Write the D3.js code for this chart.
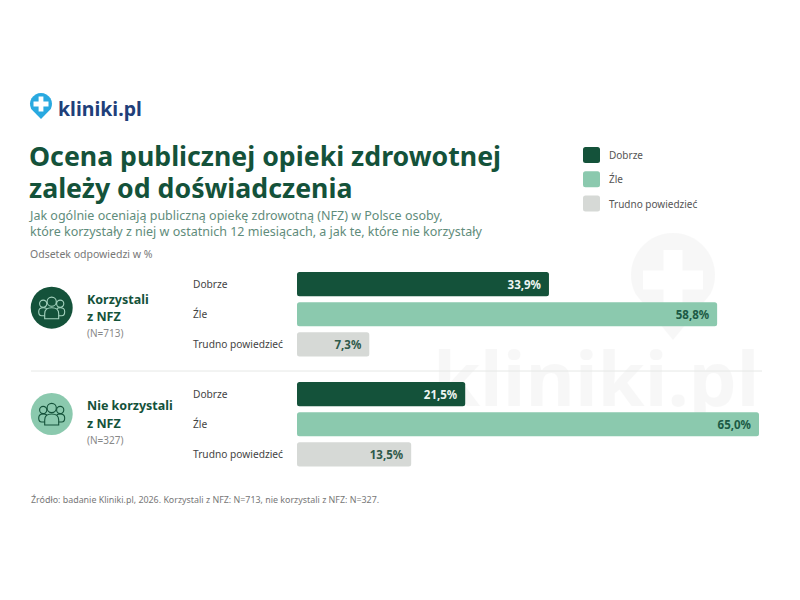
<!DOCTYPE html>
<html lang="pl">
<head>
<meta charset="utf-8">
<script src="https://cdn.jsdelivr.net/npm/d3@7"></script>
<style>
  html, body { margin: 0; padding: 0; background: #fff; }
  text { font-family: "Noto Sans", sans-serif; }
</style>
</head>
<body>
<div class="chart"></div>
<script>
const answers = ["Dobrze", "Źle", "Trudno powiedzieć"];
const groupNames = [["Korzystali", "z NFZ"], ["Nie korzystali", "z NFZ"]];
const groupCounts = ["(N=713)", "(N=327)"];
const usedValues = [33.9, 58.8, 7.3];
const notUsedValues = [21.5, 65.0, 13.5];
const titleLines = ["Ocena publicznej opieki zdrowotnej", "zależy od doświadczenia"];
const subtitleLines = [
    "Jak ogólnie oceniają publiczną opiekę zdrowotną (NFZ) w Polsce osoby,",
    "które korzystały z niej w ostatnich 12 miesiącach, a jak te, które nie korzystały"
];
const unitNote = "Odsetek odpowiedzi w %";
const sourceNote = "Źródło: badanie Kliniki.pl, 2026. Korzystali z NFZ: N=713, nie korzystali z NFZ: N=327.";

const dark = "#14523a", mint = "#8bc9ae", grey = "#d6d9d6";
const barColor = d3.scaleOrdinal().domain(answers).range([dark, mint, grey]);
const labelColor = d3.scaleOrdinal().domain(answers).range(["#eef6f2", "#1c5a45", "#2f5a4a"]);

const svg = d3.select(".chart").append("svg")
    .attr("width", 800)
    .attr("height", 600)
    .style("display", "block");

// watermark, sits behind everything
const mark = svg.append("g").attr("opacity", 0.03);
mark.append("path")
    .attr("d", pinPath(673, 275, 42, 1.55))
    .attr("fill", "#333");
mark.append("path")
    .attr("d", crossPath(673, 280, 30, 9.5))
    .attr("fill", "#fff");
mark.append("text")
    .attr("x", 433).attr("y", 406)
    .attr("font-size", 76).attr("font-weight", 700)
    .attr("fill", "#333")
    .text("kliniki.pl");

// logo
svg.append("path").attr("d", pinPath(41, 104, 11, 1.36)).attr("fill", "#29a9e0");
svg.append("path").attr("d", crossPath(41, 104, 7.5, 2.4)).attr("fill", "#fff");
svg.append("text")
    .attr("x", 58).attr("y", 115.5)
    .attr("font-size", 19.5).attr("font-weight", 700)
    .attr("fill", "#1f3f7a")
    .text("kliniki.pl");

svg.append("g").selectAll("text")
    .data(titleLines)
    .join("text")
    .attr("x", 29)
    .attr("y", (d, i) => 166 + i * 32)
    .attr("font-size", 26.7).attr("font-weight", 700)
    .attr("fill", "#14523a")
    .text(d => d);

svg.append("g").selectAll("text")
    .data(subtitleLines)
    .join("text")
    .attr("x", 30)
    .attr("y", (d, i) => 220 + i * 16)
    .attr("font-size", 12.5)
    .attr("fill", "#5f8c7b")
    .text(d => d);

svg.append("text")
    .attr("x", 30).attr("y", 258)
    .attr("font-size", 10.5)
    .attr("fill", "#777")
    .text(unitNote);

// legend
const legend = svg.append("g").selectAll("g")
    .data(answers)
    .join("g")
    .attr("transform", (d, i) => `translate(583,${147 + i * 24.3})`);
legend.append("rect")
    .attr("width", 17).attr("height", 16).attr("rx", 2.5)
    .attr("fill", d => barColor(d));
legend.append("text")
    .attr("x", 26).attr("y", 12)
    .attr("font-size", 10)
    .attr("fill", "#555")
    .text(d => d);

// the bars in the original are not strictly proportional to their values,
// so this is a fit through them with zero to the right of the bar origin
const barLeft = 297;
const x = d3.scaleLinear().domain([0, 65]).range([320, 759]);

const groups = [
    {name: groupNames[0], count: groupCounts[0], values: usedValues, top: 272, mid: 35.7, fill: dark, stroke: "#a5d3bf"},
    {name: groupNames[1], count: groupCounts[1], values: notUsedValues, top: 382, mid: 32, fill: mint, stroke: "#14523a"}
];

const y = d3.scaleBand().domain(answers).range([0, 84.5]).paddingInner(0.2).paddingOuter(0);

const group = svg.append("g").selectAll("g")
    .data(groups)
    .join("g")
    .attr("transform", d => `translate(0,${d.top})`);

group.append("circle")
    .attr("cx", 51.7).attr("cy", d => d.mid).attr("r", 21)
    .attr("fill", d => d.fill);

group.each(function(d) {
    const icon = d3.select(this).append("g")
        .attr("transform", `translate(51.7,${d.mid})`)
        .attr("fill", "none")
        .attr("stroke", d.stroke)
        .attr("stroke-width", 1.1);
    icon.append("circle").attr("cx", -8.5).attr("cy", -4).attr("r", 3.6);
    icon.append("circle").attr("cx", 8.5).attr("cy", -4).attr("r", 3.6);
    icon.append("circle").attr("cx", 0).attr("cy", -6).attr("r", 4.6);
    icon.append("path").attr("d", "M-7,11 V6 Q-7,0 0,0 Q7,0 7,6 V11 Z").attr("fill", d.fill);
    icon.append("path").attr("d", "M-7,8 H-10 Q-13,8 -13,4 Q-13,0 -8.5,0 Q-6,0 -5,1");
    icon.append("path").attr("d", "M7,8 H10 Q13,8 13,4 Q13,0 8.5,0 Q6,0 5,1");
});

group.each(function(d) {
    d3.select(this).selectAll(".name")
        .data(d.name)
        .join("text")
        .attr("class", "name")
        .attr("x", 87)
        .attr("y", (t, i) => d.mid - 4 + i * 17.5)
        .attr("font-size", 12.5).attr("font-weight", 700)
        .attr("fill", "#14523a")
        .text(t => t);
});

group.append("text")
    .attr("x", 87).attr("y", d => d.mid + 29.5)
    .attr("font-size", 10)
    .attr("fill", "#888")
    .text(d => d.count);

const row = group.selectAll(".row")
    .data(d => answers.map((a, i) => ({answer: a, value: d.values[i]})))
    .join("g")
    .attr("class", "row")
    .attr("transform", d => `translate(0,${y(d.answer)})`);

row.append("text")
    .attr("x", 193).attr("y", 16)
    .attr("font-size", 10.2)
    .attr("fill", "#444")
    .text(d => d.answer);

row.append("rect")
    .attr("x", barLeft)
    .attr("width", d => x(d.value) - barLeft)
    .attr("height", y.bandwidth())
    .attr("rx", 2.5)
    .attr("fill", d => barColor(d.answer));

row.append("text")
    .attr("x", d => x(d.value) - 8)
    .attr("y", 16.5)
    .attr("text-anchor", "end")
    .attr("font-size", 11.5).attr("font-weight", 700)
    .attr("fill", d => labelColor(d.answer))
    .text(d => d.value.toFixed(1).replace(".", ",") + "%");

svg.append("line")
    .attr("x1", 31).attr("x2", 762)
    .attr("y1", 371).attr("y2", 371)
    .attr("stroke", "#e6e8e6");

svg.append("text")
    .attr("x", 31).attr("y", 503)
    .attr("font-size", 8.9)
    .attr("fill", "#777")
    .text(sourceNote);

function pinPath(cx, cy, r, tail) {
    const p = d3.path();
    p.arc(cx, cy, r, Math.PI * 0.85, Math.PI * 0.15);
    p.lineTo(cx, cy + r * tail);
    p.closePath();
    return p.toString();
}

function crossPath(cx, cy, a, b) {
    return `M${cx - b},${cy - a}H${cx + b}V${cy - b}H${cx + a}V${cy + b}H${cx + b}V${cy + a}H${cx - b}V${cy + b}H${cx - a}V${cy - b}H${cx - b}Z`;
}
</script>
</body>
</html>
